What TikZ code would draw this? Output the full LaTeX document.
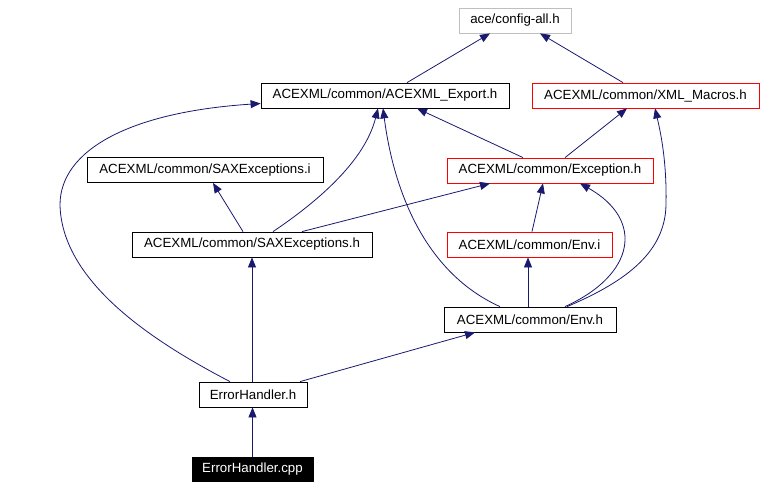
\documentclass[tikz,border=0pt]{standalone}
\usepackage{fontspec}
\setmainfont{Liberation Sans}
\usetikzlibrary{arrows.meta}
\definecolor{edgeblue}{RGB}{25,25,112}
\definecolor{lightframe}{RGB}{191,191,191}
\tikzset{
  hdr/.style={draw=black, line width=0.8pt, fill=white, inner sep=0pt, minimum height=25pt,
    font=\fontsize{13.3}{16}\selectfont, text=black},
  redhdr/.style={hdr, draw=red},
  grayhdr/.style={hdr, draw=lightframe},
  srchdr/.style={hdr, fill=black, text=white, draw=black},
  edge/.style={draw=edgeblue, line width=0.8pt,
    -{Triangle[length=10pt,width=8pt,fill=edgeblue]}}
}
\begin{document}
\begin{tikzpicture}[x=1pt,y=-1pt]
\useasboundingbox (0,0) rectangle (765,488);
\node[grayhdr, minimum width=112pt] (config) at (515,20.5) {ace/config-all.h};
\node[hdr, minimum width=248pt] (export) at (385,95.5) {ACEXML/common/ACEXML\_Export.h};
\node[redhdr, minimum width=227pt] (macros) at (645.5,95.5) {ACEXML/common/XML\_Macros.h};
\node[redhdr, minimum width=206pt] (exception) at (550,170.5) {ACEXML/common/Exception.h};
\node[hdr, minimum width=236pt] (saxi) at (205,170) {ACEXML/common/SAXExceptions.i};
\node[hdr, minimum width=240pt] (saxh) at (252,244.5) {ACEXML/common/SAXExceptions.h};
\node[redhdr, minimum width=165pt] (envi) at (529.5,244.5) {ACEXML/common/Env.i};
\node[hdr, minimum width=172pt] (envh) at (530,319.5) {ACEXML/common/Env.h};
\node[hdr, minimum width=108pt] (errh) at (253,394.5) {ErrorHandler.h};
\node[srchdr, minimum width=121pt, minimum height=24pt] (errcpp) at (252.5,469) {ErrorHandler.cpp};

% edges
\draw[edge] ([xshift=22pt]export.north) -- ([xshift=-25pt]config.south);
\draw[edge] ([xshift=-22.5pt]macros.north) -- ([xshift=25pt]config.south);
\draw[edge] ([xshift=-27pt]exception.north) -- ([xshift=32pt]export.south);
\draw[edge] ([xshift=15pt]exception.north) -- ([xshift=-18.5pt]macros.south);
\draw[edge] ([xshift=21pt]saxh.north) .. controls (320,200) and (365,160) .. ([xshift=-7pt]export.south);
\draw[edge] ([xshift=-9pt]saxh.north) -- ([xshift=8pt]saxi.south);
\draw[edge] ([xshift=50pt]saxh.north) -- ([xshift=-60pt]exception.south);
\draw[edge] ([xshift=-30pt]envh.north) .. controls (430,275) and (395,200) .. ([xshift=-2pt]export.south);
\draw[edge] ([xshift=2.5pt]envi.north) -- ([xshift=-7pt]exception.south);
\draw[edge] ([xshift=-2pt]envh.north) -- ([xshift=-1.5pt]envi.south);
\draw[edge] ([xshift=35pt]envh.north) .. controls (635,275) and (645,220) .. ([xshift=30pt]exception.south);
\coordinate (mbend) at (666,205);
\draw[edge] ([xshift=37pt]envh.north) .. controls (630,280) and (665,250) .. (mbend)
  .. controls (667,160) and (660,130) .. ([xshift=9.5pt]macros.south);
\draw[edge] ([xshift=-1pt]errh.north) -- (saxh.south);
\draw[edge] ([xshift=47pt]errh.north) -- ([xshift=-55pt]envh.south);
\coordinate (lbend) at (60,205);
\draw[edge] ([xshift=-23pt]errh.north) .. controls (160,345) and (62,285) .. (lbend)
  .. controls (60,150) and (130,112) .. ([yshift=-8pt]export.west);
\draw[edge] (errcpp.north) -- ([xshift=-0.5pt]errh.south);
\end{tikzpicture}
\end{document}
